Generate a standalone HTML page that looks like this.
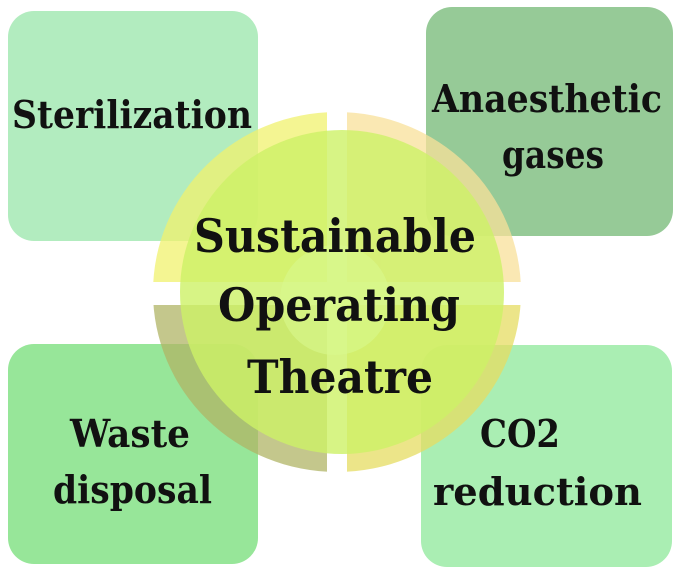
<!DOCTYPE html>
<html><head><meta charset="utf-8"><style>
html,body{margin:0;padding:0;background:#fff;width:675px;height:571px;overflow:hidden}
text{font-family:"DejaVu Serif","Liberation Serif",serif;font-weight:bold;fill:#111}
</style></head><body>
<svg width="675" height="571" viewBox="0 0 675 571" xmlns="http://www.w3.org/2000/svg">
<defs>
<clipPath id="ringclip">
<path d="M337,292 m-184,0 a184,180 0 1,0 368,0 a184,180 0 1,0 -368,0 Z"/>
</clipPath>
</defs>
<rect x="8" y="11" width="250" height="230" rx="26" fill="#b2ecbf"/>
<rect x="426" y="7" width="247" height="229" rx="26" fill="#96ca97"/>
<rect x="8" y="344" width="250" height="220" rx="26" fill="#97e699"/>
<rect x="421" y="345" width="251" height="222" rx="26" fill="#aaeeb3"/>

<g clip-path="url(#ringclip)" opacity="0.75">
<rect x="150" y="110" width="177" height="172" fill="#f0f26e"/>
<rect x="347" y="110" width="180" height="172" fill="#f8e09a"/>
<rect x="150" y="305" width="177" height="170" fill="#b0b466"/>
<rect x="347" y="305" width="180" height="170" fill="#e6dc62"/>
</g>
<circle cx="342" cy="292" r="162" fill="#cdf166" opacity="0.8"/>
<circle cx="335" cy="300" r="55" fill="#d9f98e" opacity="0.6"/>

<text x="12" y="128" font-size="38" textLength="240" lengthAdjust="spacingAndGlyphs">Sterilization</text>
<text x="432" y="112" font-size="38" textLength="230" lengthAdjust="spacingAndGlyphs">Anaesthetic</text>
<text x="502" y="168" font-size="38" textLength="102" lengthAdjust="spacingAndGlyphs">gases</text>
<text x="194" y="252" font-size="46" textLength="282" lengthAdjust="spacingAndGlyphs">Sustainable</text>
<text x="218" y="321" font-size="46" textLength="242" lengthAdjust="spacingAndGlyphs">Operating</text>
<text x="247" y="393" font-size="46" textLength="186" lengthAdjust="spacingAndGlyphs">Theatre</text>
<text x="70" y="447" font-size="38" textLength="120" lengthAdjust="spacingAndGlyphs">Waste</text>
<text x="53" y="503" font-size="38" textLength="159" lengthAdjust="spacingAndGlyphs">disposal</text>
<text x="480" y="447" font-size="38" textLength="80" lengthAdjust="spacingAndGlyphs">CO2</text>
<text x="433" y="505" font-size="38" textLength="209" lengthAdjust="spacingAndGlyphs">reduction</text>
</svg>
</body></html>
